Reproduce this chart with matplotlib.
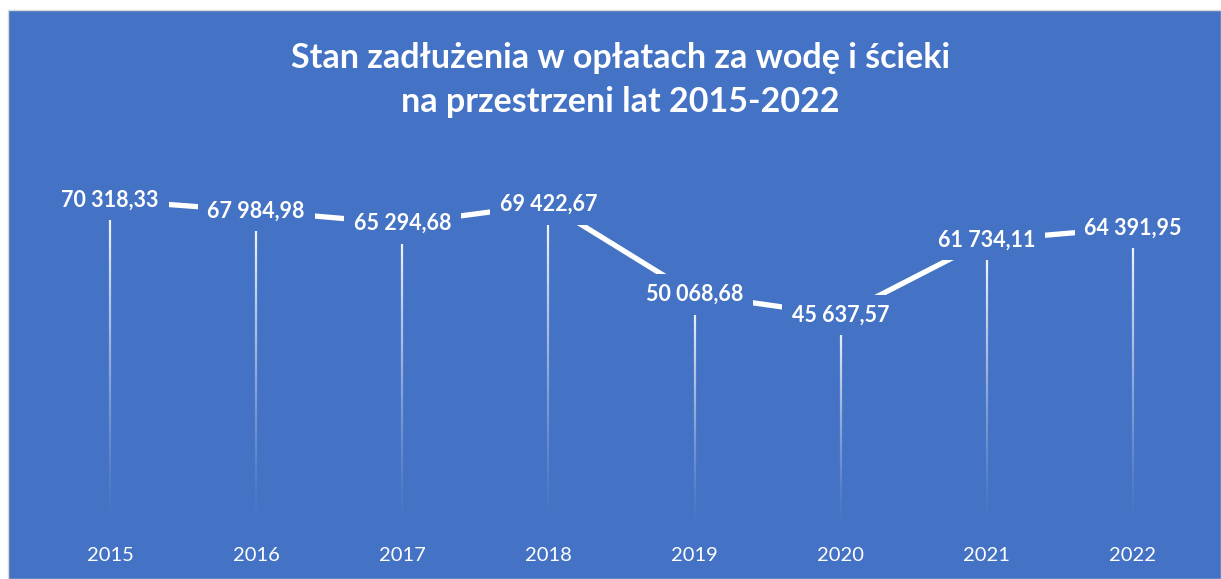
import matplotlib
matplotlib.use("Agg")
import matplotlib.pyplot as plt
from matplotlib.patches import Rectangle
from matplotlib.collections import LineCollection
import numpy as np

years = ["2015", "2016", "2017", "2018", "2019", "2020", "2021", "2022"]
values = [70318.33, 67984.98, 65294.68, 69422.67, 50068.68, 45637.57, 61734.11, 64391.95]
title = "Stan zadłużenia w opłatach za wodę i ścieki\nna przestrzeni lat 2015-2022"

BLUE = "#4472C4"
W, H = 1221, 579
fig = plt.figure(figsize=(W / 100, H / 100), dpi=100, facecolor="white")
fig.patches.append(Rectangle((8 / W, 0), 1 - 8 / W, 1 - 10 / H, transform=fig.transFigure,
                             facecolor=BLUE, edgecolor="#d9d9d9", linewidth=1, zorder=-10))

ax = fig.add_axes([37 / W, (H - 528) / H, (1206 - 37) / W, (528 - 155) / H])
ax.set_zorder(5)
ax.set_facecolor("none")
x = np.arange(len(years))
ax.set_xlim(-0.5, len(years) - 0.5)
ax.set_ylim(0, 80000)

def fmt(v):
    s = f"{v:,.2f}"
    return s.replace(",", " ").replace(".", ",")

# drop lines with fading gradient
for xi, v in zip(x, values):
    n = 120
    ys = np.linspace(v, 0, n + 1)
    segs = [[(xi, ys[i]), (xi, ys[i + 1])] for i in range(n)]
    alphas = np.linspace(1, 0, n) ** 1.3
    cols = [(1, 1, 1, a) for a in alphas]
    ax.add_collection(LineCollection(segs, colors=cols, linewidths=1.6, zorder=1))

ax.plot(x, values, color="white", linewidth=3.8, solid_capstyle="butt", zorder=2)

for xi, v in zip(x, values):
    ax.text(xi, v, fmt(v), ha="center", va="center", color="white", fontsize=15.5,
            fontweight="bold", family="Lato", zorder=3,
            bbox=dict(boxstyle="square,pad=0.45", facecolor=BLUE, edgecolor="none"))

for s in ax.spines.values():
    s.set_visible(False)
ax.set_yticks([])
ax.set_xticks(x)
ax.set_xticklabels(years, color="white", fontsize=14.5, family="Lato")
ax.tick_params(axis="x", length=0, pad=14)

fig.text(0.508, 1 - 80 / H, title, ha="center", va="center", color="white",
         fontsize=24.5, fontweight="bold", family="Lato", linespacing=1.45)

fig.savefig("out.png", dpi=100, facecolor="white")
